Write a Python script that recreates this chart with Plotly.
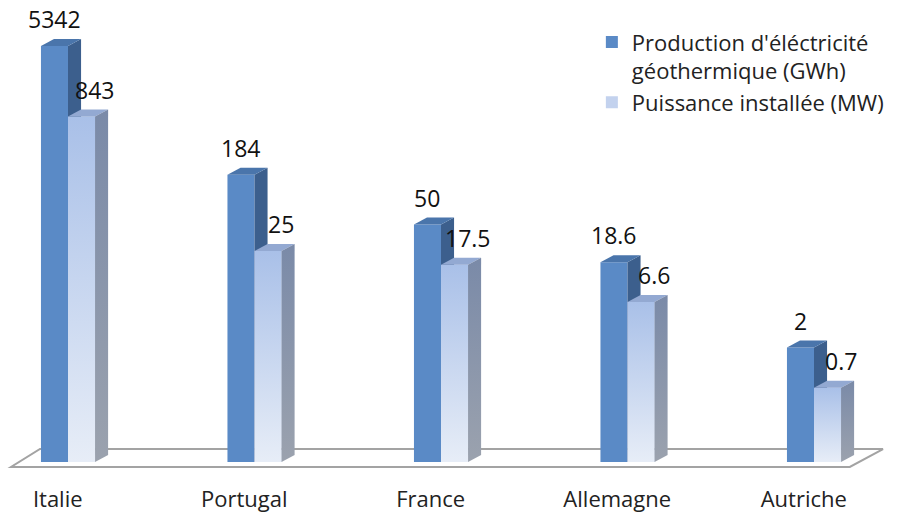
import numpy as np
import plotly.graph_objects as go

# Geothermal electricity in five European countries (log scale)
countries = ["Italie", "Portugal", "France", "Allemagne", "Autriche"]
production_gwh = [5342, 184, 50, 18.6, 2]
capacity_mw = [843, 25, 17.5, 6.6, 0.7]

name_prod = "Production d'éléctricité<br>géothermique (GWh)"
name_cap = "Puissance installée (MW)"

# bar geometry (category units / log-axis factors)
BASE = 0.1            # floor value of the log axis
W = 0.145             # width of one bar
D = 0.07              # horizontal depth of the 3D extrusion
R = 10 ** (7 / 88)    # vertical rise of the extrusion on the log axis

DARK_FRONT = "#5a8ac6"
DARK_TOP = "#4a75ab"
DARK_SIDE = "#3c5f8d"
LIGHT_TOP = "#93a9d2"
FONT = "Open Sans"

pos = np.arange(len(countries), dtype=float)
prod = np.array(production_gwh, dtype=float)
cap = np.array(capacity_mw, dtype=float)

fig = go.Figure()

# front faces as bars sitting on the floor value
fig.add_trace(go.Bar(
    x=pos - W / 2, y=prod - BASE, base=BASE, width=W,
    marker=dict(color=DARK_FRONT, line=dict(width=0)),
    name=name_prod, legendgroup="prod", hoverinfo="skip",
))
fig.add_trace(go.Bar(
    x=pos + W / 2, y=cap - BASE, base=BASE, width=W,
    marker=dict(color="#c3d2ee", line=dict(width=0)),
    name=name_cap, legendgroup="cap", hoverinfo="skip",
))


def face(xs, ys, color=None, gradient=None):
    kw = dict(x=xs, y=ys, mode="lines", fill="toself",
              line=dict(width=0), showlegend=False, hoverinfo="skip")
    if gradient is not None:
        kw["fillgradient"] = dict(type="vertical", colorscale=gradient)
        kw["fillcolor"] = gradient[-1][1]
    else:
        kw["fillcolor"] = color
    fig.add_trace(go.Scatter(**kw))


# dark series: side and top faces
for i, v in zip(pos, prod):
    face([i, i + D, i + D, i, i], [BASE, BASE * R, v * R, v, BASE], DARK_SIDE)
for i, v in zip(pos, prod):
    face([i - W, i, i + D, i - W + D, i - W], [v, v, v * R, v * R, v], DARK_TOP)

# light series: gradient front, top and side faces
for i, v in zip(pos, cap):
    face([i, i + W, i + W, i, i], [BASE, BASE, v, v, BASE],
         gradient=[[0, "#e7edf7"], [1, "#a9c0e8"]])
for i, v in zip(pos, cap):
    face([i, i + W, i + W + D, i + D, i], [v, v, v * R, v * R, v], LIGHT_TOP)
for i, v in zip(pos, cap):
    face([i + W, i + W + D, i + W + D, i + W, i + W],
         [BASE, BASE * R, v * R, v, BASE],
         gradient=[[0, "#9ba2ae"], [1, "#7a8aa8"]])

# value labels above each bar
for i, v in zip(pos, prod):
    fig.add_annotation(x=i - W / 2, y=np.log10(v), yshift=27, text=f"{v:g}",
                       showarrow=False, font=dict(family=FONT, size=23, color="#111"))
for i, v in zip(pos, cap):
    fig.add_annotation(x=i + W / 2 + D, y=np.log10(v), yshift=27, text=f"{v:g}",
                       showarrow=False, font=dict(family=FONT, size=23, color="#111"))

# floor of the 3D plot
fig.add_shape(type="path", xref="paper", yref="paper", layer="below",
              path="M 0.0122 0.0085 L 0.939 0.0085 L 0.9757 0.0467 L 0.0442 0.0467 Z",
              line=dict(color="#a3a3a3", width=2), fillcolor="white")

fig.update_layout(
    width=905, height=516,
    margin=dict(l=0, r=0, t=0, b=45),
    paper_bgcolor="white", plot_bgcolor="white",
    barmode="overlay",
    showlegend=True,
    legend=dict(x=0.654, y=0.955, xanchor="left", yanchor="top",
                valign="top", traceorder="normal", tracegroupgap=6,
                font=dict(family=FONT, size=22, color="#222"),
                bgcolor="rgba(0,0,0,0)"),
    xaxis=dict(range=[-68 / 186.5, (905 - 68) / 186.5],
               tickvals=pos - 0.055, ticktext=countries,
               tickfont=dict(family=FONT, size=22, color="#222"),
               ticks="", ticklabelstandoff=13,
               showgrid=False, zeroline=False, showline=False),
    yaxis=dict(type="log", range=[-1.102, 4.25], visible=False,
               showgrid=False, zeroline=False),
)

fig.write_html("out.html")
